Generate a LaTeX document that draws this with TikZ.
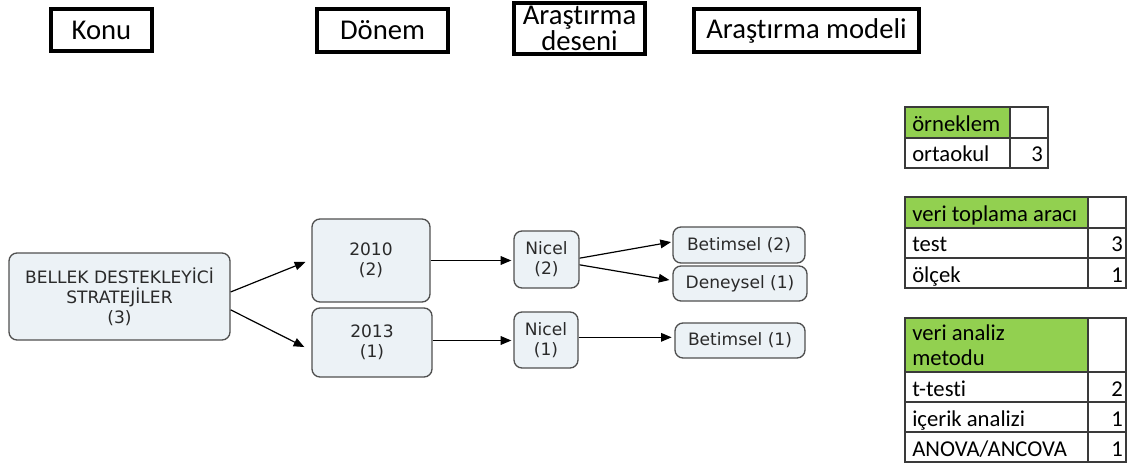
\documentclass[tikz,border=0pt]{standalone}
\usepackage{fontspec}
\setmainfont{Carlito}[Ligatures=NoCommon]
\newfontfamily\nodefont{DejaVu Sans}
\usetikzlibrary{arrows.meta}
\definecolor{nodefill}{HTML}{ECF2F6}
\definecolor{nodeline}{HTML}{505050}
\definecolor{nodetext}{HTML}{2A2A2A}
\definecolor{xlgreen}{HTML}{92D050}
\definecolor{gridline}{HTML}{3A3A3A}
\begin{document}
\begin{tikzpicture}[x=0.75pt,y=-0.75pt,
  hdr/.style={draw=black, line width=3pt, inner sep=0pt, font=\fontsize{21.5}{16.5}\selectfont, align=center},
  box/.style={draw=nodeline, fill=nodefill, line width=1pt, rounded corners=6pt, inner sep=0pt, font=\nodefont\fontsize{12.8}{15}\selectfont, text=nodetext, align=center},
  sz/.style 2 args={minimum width=#1*0.75pt, minimum height=#2*0.75pt},
  arr/.style={-{Triangle[length=8pt,width=6.5pt]}, line width=0.9pt, black},
  cell/.style={draw=gridline, line width=0.8pt},
  ttext/.style={anchor=base west, inner sep=0pt, font=\fontsize{17}{18}\selectfont},
  tnum/.style={anchor=base east, inner sep=0pt, font=\fontsize{17}{18}\selectfont},
]
\useasboundingbox (0,0) rectangle (1130,463);

% headers
\node[hdr, sz={101}{42}] (hkonu) at (101.5,30) {Konu};
\node[hdr, sz={131}{43}] (hdonem) at (382.5,30.5) {Dönem};
\node[hdr, sz={131}{51}] (hdesen) at (579.5,28.5) {Araştırma\\deseni};
\node[hdr, sz={225}{43}] (hmodel) at (806.5,30.5) {Araştırma modeli};

% nodes
\node[box, sz={221}{87}] (bellek) at (119.5,296.5) {BELLEK DESTEKLEYİCİ\\STRATEJİLER\\(3)};
\node[box, sz={118}{83}] (y2010) at (371,260.5) {2010\\(2)};
\node[box, sz={120}{69}] (y2013) at (372,342.5) {2013\\(1)};
\node[box, sz={65}{57}] (nicel2) at (546.5,259.5) {Nicel\\(2)};
\node[box, sz={64}{56}] (nicel1) at (546,340) {Nicel\\(1)};
\node[box, sz={132}{36}] (bet2) at (739,245) {Betimsel (2)};
\node[box, sz={134}{35}] (den1) at (740,283.5) {Deneysel (1)};
\node[box, sz={130}{35}] (bet1) at (740,340.5) {Betimsel (1)};

% connectors
\draw[arr] ([yshift=3.4pt]bellek.east) -- ([xshift=-4.5pt,yshift=-1.1pt]y2010.west);
\draw[arr] ([yshift=-10pt]bellek.east) -- ([xshift=-5.25pt,yshift=-3.4pt]y2013.west);
\draw[arr] (y2010.east) -- ([xshift=-1.5pt]y2010.east -| nicel2.west);
\draw[arr] ([yshift=1.5pt]y2013.east) -- ([xshift=-1.5pt,yshift=1.5pt]y2013.east -| nicel1.west);
\draw[arr] ([yshift=1pt]nicel2.east) -- ([xshift=-1pt,yshift=2.2pt]bet2.west);
\draw[arr] ([yshift=-4pt]nicel2.east) -- ([xshift=-2.2pt,yshift=2.6pt]den1.west);
\draw[arr] ([yshift=2pt]nicel1.east) -- ([xshift=-2pt,yshift=2pt]nicel1.east -| bet1.west);

% table 1
\fill[xlgreen] (905,107) rectangle (1010,138);
\draw[cell] (905,107) rectangle (1048,168);
\draw[cell] (905,138) -- (1048,138);
\draw[cell] (1010,107) -- (1010,168);
\node[ttext] (t1h) at (912,132) {örneklem};
\node[ttext] (t1a) at (912,162) {ortaokul};
\node[tnum] (t1av) at (1043,162) {3};

% table 2
\fill[xlgreen] (905,197) rectangle (1088,228);
\draw[cell] (905,197) rectangle (1126,288);
\draw[cell] (905,228) -- (1126,228);
\draw[cell] (905,258) -- (1126,258);
\draw[cell] (1088,197) -- (1088,288);
\node[ttext] (t2h) at (912,222) {veri toplama aracı};
\node[ttext] (t2a) at (912,252) {test};
\node[tnum] (t2av) at (1123,252) {3};
\node[ttext] (t2b) at (912,282) {ölçek};
\node[tnum] (t2bv) at (1123,282) {1};

% table 3
\fill[xlgreen] (905,318) rectangle (1088,372);
\draw[cell] (905,318) rectangle (1126,462);
\draw[cell] (905,372) -- (1126,372);
\draw[cell] (905,402) -- (1126,402);
\draw[cell] (905,432) -- (1126,432);
\draw[cell] (1088,318) -- (1088,462);
\node[ttext] (t3h1) at (912,340) {veri analiz};
\node[ttext] (t3h2) at (912,365) {metodu};
\node[ttext] (t3a) at (912,396) {t-testi};
\node[tnum] (t3av) at (1123,396) {2};
\node[ttext] (t3b) at (912,426) {içerik analizi};
\node[tnum] (t3bv) at (1123,426) {1};
\node[ttext] (t3c) at (912,456) {ANOVA/ANCOVA};
\node[tnum] (t3cv) at (1123,456) {1};
\end{tikzpicture}
\end{document}
